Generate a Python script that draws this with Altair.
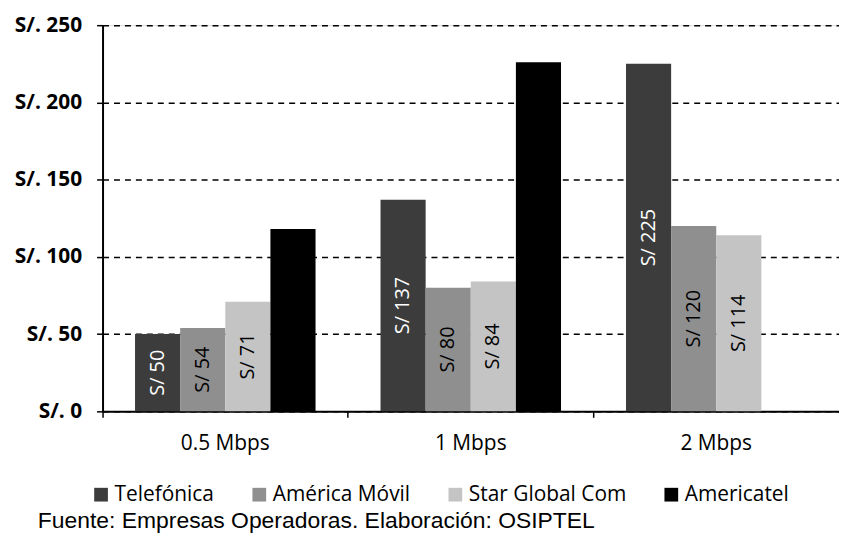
import altair as alt
import pandas as pd

speeds = ["0.5 Mbps", "1 Mbps", "2 Mbps"]
operators = ["Telefónica", "América Móvil", "Star Global Com", "Americatel"]
colors = ["#3c3c3c", "#8f8f8f", "#c4c4c4", "#000000"]
telefonica = [50, 137, 225]
america_movil = [54, 80, 120]
star_global = [71, 84, 114]
americatel = [118, 226, None]
show_label = {"Telefónica": True, "América Móvil": True, "Star Global Com": True, "Americatel": False}
source_text = "Fuente: Empresas Operadoras. Elaboración: OSIPTEL"

rows = []
for op, vals in zip(operators, [telefonica, america_movil, star_global, americatel]):
    for sp, v in zip(speeds, vals):
        if v is None:
            continue
        rows.append({"speed": sp, "operator": op, "value": v,
                     "label": f"S/ {v}" if show_label[op] else "",
                     "light": op == "Telefónica"})
df = pd.DataFrame(rows)

FONT = "Open Sans"

xenc = alt.X("speed:N", sort=speeds, title=None,
             scale=alt.Scale(paddingInner=0, paddingOuter=0),
             axis=alt.Axis(bandPosition=0, labelAngle=0, labelFontSize=21,
                           labelFont=FONT, labelColor="#000",
                           tickColor="#000", tickSize=6, tickWidth=1.5,
                           domainColor="#000", domainWidth=2, labelPadding=15))
xoff = alt.XOffset("operator:N", sort=operators,
                   scale=alt.Scale(domain=operators, paddingOuter=0.72, paddingInner=0))
yenc = alt.Y("value:Q", title=None,
             scale=alt.Scale(domain=[0, 250], nice=False),
             axis=alt.Axis(values=[0, 50, 100, 150, 200, 250],
                           labelExpr="'S/. ' + datum.value",
                           labelFontSize=21, labelFontWeight="bold",
                           labelFont=FONT, labelColor="#000",
                           tickColor="#000", tickSize=6, tickWidth=1.5, labelPadding=15,
                           domainColor="#000", domainWidth=2,
                           grid=True, gridColor="#000", gridDash=[6, 5], gridWidth=1.5))

base = alt.Chart(df)
bars = base.mark_bar().encode(
    x=xenc, xOffset=xoff, y=yenc,
    color=alt.Color("operator:N", sort=operators,
                    scale=alt.Scale(domain=operators, range=colors),
                    legend=alt.Legend(title=None, orient="none", direction="horizontal",
                                      legendX=-12, legendY=461, symbolType="square",
                                      symbolSize=190, symbolStrokeWidth=0,
                                      labelFontSize=21, labelFont=FONT, labelOffset=3,
                                      labelColor="#000", columnPadding=34)),
)
texts = base.mark_text(angle=270, fontSize=20, font=FONT).encode(
    x=xenc, xOffset=xoff,
    y=alt.Y("half:Q"),
    text="label:N",
    color=alt.condition("datum.light", alt.value("#ffffff"), alt.value("#000000")),
).transform_calculate(half="datum.value / 2")

src = alt.Chart(pd.DataFrame({"t": [source_text]})).mark_text(
    align="left", baseline="middle", fontSize=23, font="Liberation Sans", color="#000"
).encode(x=alt.value(-65), y=alt.value(498), text="t:N")

chart = alt.layer(bars, texts, src).properties(
    width=740, height=388,
    autosize=alt.AutoSizeParams(type="none"),
    padding={"left": 95, "top": 16, "right": 0, "bottom": 124},
).configure_view(stroke=None).configure(background="white")

chart.save("out.html", embed_options={"renderer": "svg", "actions": False})
